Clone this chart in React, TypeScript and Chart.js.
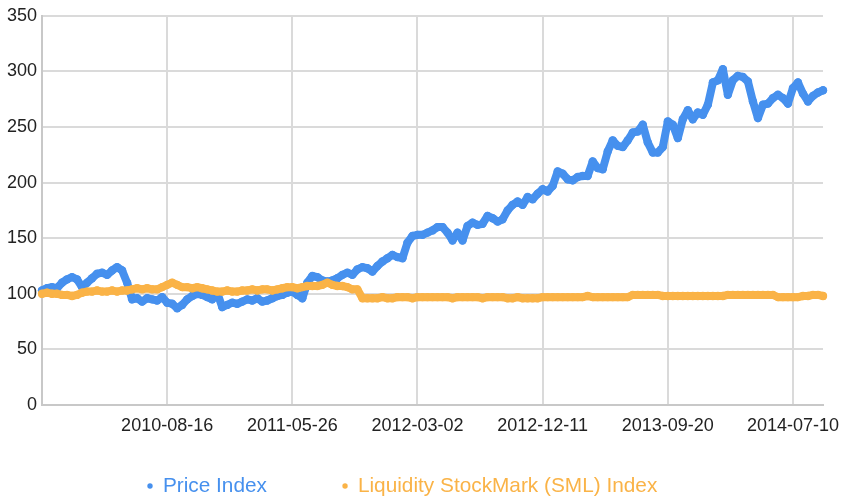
import React, { useEffect, useRef } from "react";
import { Chart, registerables } from "chart.js";

Chart.register(...registerables);

const seriesNames = ["Price Index", "Liquidity StockMark (SML) Index"];
const seriesColors = ["#4690ee", "#fab347"];

const tickLabels = ["2010-08-16", "2011-05-26", "2012-03-02", "2012-12-11", "2013-09-20", "2014-07-10"];
const tickPositions = [25, 50, 75, 100, 125, 150];
const yTicksMax = 350;
const yStep = 50;

const priceIndex = [
  103, 105, 106, 105, 110, 113, 115, 113, 106, 110,
  114, 118, 119, 117, 121, 124, 121, 110, 95, 96,
  93, 96, 95, 94, 97, 92, 91, 87, 90, 95,
  98, 100, 99, 97, 95, 101, 88, 90, 92, 91,
  93, 95, 94, 96, 93, 94, 96, 98, 99, 101,
  102, 99, 96, 110, 116, 115, 112, 111, 112, 114,
  117, 119, 117, 122, 124, 123, 120, 125, 129, 132,
  135, 133, 132, 146, 152, 153, 153, 155, 157, 160,
  160, 155, 148, 155, 148, 161, 164, 162, 163, 170,
  168, 165, 167, 175, 180, 183, 180, 187, 185, 190,
  194, 192, 197, 210, 208, 203, 202, 205, 206, 206,
  219, 213, 212, 228, 238, 233, 232, 238, 245, 246,
  252, 236, 227, 227, 232, 255, 252, 240, 257, 265,
  257, 263, 261, 270, 290, 292, 302, 279, 292, 296,
  295, 291, 273, 258, 270, 271, 276, 279, 276, 271,
  285, 290, 280, 273, 278, 281, 283,
];

const liquidityIndex = [
  100, 101, 100, 100, 99, 99, 98, 99, 101,
  102, 102, 103, 102, 102, 103, 102, 103, 103,
  104, 105, 104, 105, 104, 104,
  106, 108, 110, 108,
  106, 106, 105, 106, 105, 104,
  103, 102, 102, 103, 102, 102, 103,
  103, 104, 103, 104, 104, 103, 104,
  105, 106, 106, 105, 106,
  107, 107, 107, 108, 110, 108, 107, 107, 106, 104, 104,
  96,
  96, 96, 96, 97, 96, 96, 97, 97, 97, 96, 97, 97, 97, 97, 97,
  97, 97, 96, 97, 97, 97, 97, 97, 96, 97, 97, 97, 97, 96, 96,
  97, 96, 96, 96, 96, 97, 97, 97, 97, 97, 97, 97, 97, 97, 98,
  97, 97, 97, 97, 97, 97, 97, 97,
  99, 99, 99, 99, 99, 99,
  98, 98, 98, 98, 98, 98, 98, 98, 98, 98, 98, 98, 98,
  99, 99, 99, 99, 99, 99, 99, 99, 99, 99,
  97, 97, 97, 97, 97,
  98, 98, 99, 99, 98,
];

const FONT_FAMILY = "Arial, 'Liberation Sans', sans-serif";
const LEGEND_FONT = 20.8;
const LEGEND_X = 147.5;
const LEGEND_Y = 486;

export default function App() {
  const ref = useRef<HTMLCanvasElement>(null);

  useEffect(() => {
    document.body.style.margin = "0";
    const canvas = ref.current;
    if (!canvas) return;
    const axisFont = { family: FONT_FAMILY, size: 18 };

    const legendPlacer = {
      id: "legendPlacer",
      afterLayout(chart: any) {
        const lg = chart.legend;
        if (!lg) return;
        const pad = lg.options.labels.padding;
        lg.left = LEGEND_X - pad;
        lg.right = chart.width;
        lg.top = LEGEND_Y - pad - LEGEND_FONT / 2;
        lg.bottom = chart.height;
      },
    };

    const makeData = (arr: number[]) => arr.map((v, i) => ({ x: i, y: v }));
    const seriesStyle = (i: number, order: number) => ({
      backgroundColor: seriesColors[i],
      borderColor: seriesColors[i],
      showLine: true,
      borderWidth: 8,
      borderJoinStyle: "round" as const,
      borderCapStyle: "round" as const,
      pointRadius: 4.2,
      pointHoverRadius: 4.2,
      pointBorderWidth: 0,
      clip: false as const,
      order,
    });

    const chart = new Chart(canvas, {
      type: "scatter",
      data: {
        datasets: [
          { label: seriesNames[0], data: makeData(priceIndex), ...seriesStyle(0, 2) },
          { label: seriesNames[1], data: makeData(liquidityIndex), ...seriesStyle(1, 1) },
        ],
      },
      options: {
        animation: false,
        responsive: false,
        maintainAspectRatio: false,
        layout: { padding: { left: 0, right: 18, top: 15, bottom: 0 } },
        plugins: {
          tooltip: { enabled: false },
          legend: {
            position: "bottom",
            align: "start",
            maxHeight: 40,
            labels: {
              usePointStyle: true,
              pointStyle: "circle",
              boxWidth: 5,
              boxHeight: 3.8,
              padding: 75.6,
              font: { family: FONT_FAMILY, size: LEGEND_FONT },
              generateLabels: (c: any) => {
                const items = Chart.defaults.plugins.legend.labels.generateLabels(c);
                items.sort((a: any, b: any) => a.datasetIndex - b.datasetIndex);
                return items.map((it: any) => ({
                  ...it,
                  fontColor: seriesColors[it.datasetIndex],
                  fillStyle: seriesColors[it.datasetIndex],
                  strokeStyle: seriesColors[it.datasetIndex],
                  lineWidth: 0,
                  pointStyle: "circle",
                }));
              },
            },
          },
        },
        scales: {
          x: {
            type: "linear",
            min: 0,
            max: priceIndex.length - 1,
            afterBuildTicks: (s: any) => {
              s.ticks = tickPositions.map((v) => ({ value: v }));
            },
            afterFit: (s: any) => {
              s.height = 53;
              s.paddingLeft = 0;
              s.paddingRight = 0;
            },
            ticks: {
              callback: (v: any) => tickLabels[tickPositions.indexOf(Number(v))],
              font: axisFont,
              color: "#222222",
              padding: 10,
              maxRotation: 0,
              autoSkip: false,
            },
            grid: { color: "#dadada", lineWidth: 2, drawTicks: false },
            border: { color: "#c8c8c8", width: 2 },
          },
          y: {
            min: 0,
            max: yTicksMax,
            afterFit: (s: any) => {
              s.width = 42;
            },
            ticks: {
              stepSize: yStep,
              font: axisFont,
              color: "#222222",
              padding: 5,
            },
            grid: {
              color: (ctx: any) => (ctx.tick && ctx.tick.value === 0 ? "#c8c8c8" : "#dadada"),
              lineWidth: 2,
              drawTicks: false,
            },
            border: { color: "#c8c8c8", width: 2 },
          },
        },
      },
      plugins: [legendPlacer],
    });

    return () => chart.destroy();
  }, []);

  return (
    <div style={{ width: 841, height: 498, background: "#ffffff" }}>
      <canvas ref={ref} width={841} height={498} style={{ display: "block" }} />
    </div>
  );
}
